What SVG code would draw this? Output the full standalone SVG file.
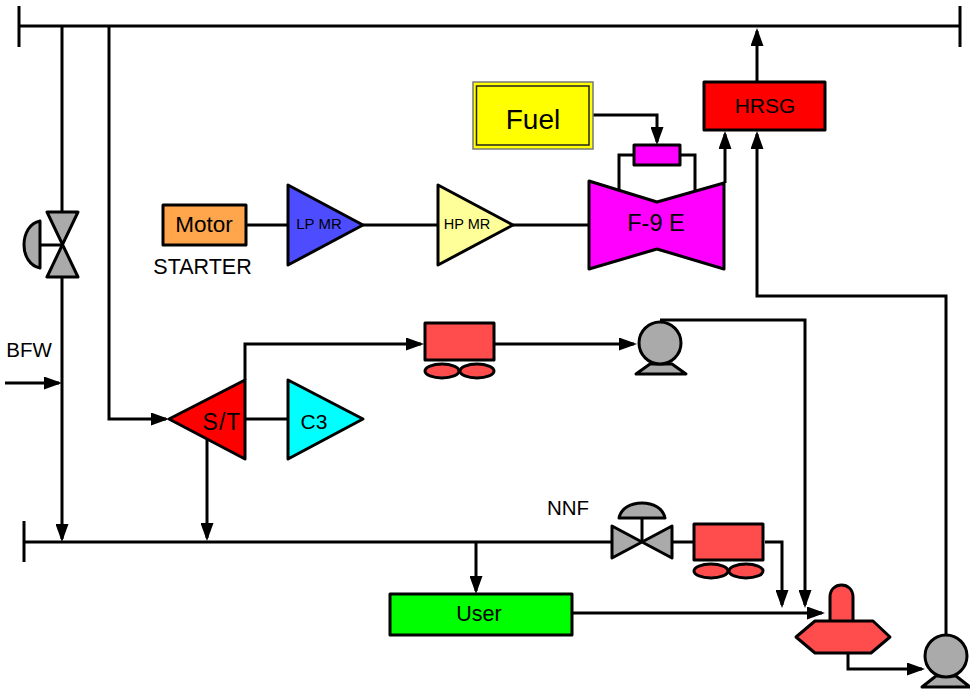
<svg xmlns="http://www.w3.org/2000/svg" width="970" height="692" viewBox="0 0 970 692">
<style>
.l{fill:none;stroke:#000;stroke-width:3}
.s{stroke:#000;stroke-width:3;stroke-linejoin:round}
.g{fill:#aaa}.r{fill:#ff4d4d}
text{font-family:"Liberation Sans",Arial,sans-serif;fill:#000;text-anchor:middle}
</style>
<defs>
<marker id="a" markerUnits="userSpaceOnUse" markerWidth="18" markerHeight="13" refX="15" refY="6.5" viewBox="0 0 18 13" orient="auto"><path d="M0 0L18 6.5L0 13Z" fill="#000"/></marker>
</defs>
<rect width="970" height="692" fill="#fff"/>
<g id="connectors">
<path class="l" d="M19 6V47M19 26H960M960 6V47"/>
<path class="l" d="M62 26V212M62 277V539" marker-end="url(#a)"/>
<path class="l" d="M109 26V419H166" marker-end="url(#a)"/>
<path class="l" d="M5 383H59" marker-end="url(#a)"/>
<path class="l" d="M246 225H288M363 225H438M513 225H589M245 419H288"/>
<path class="l" d="M593 115H657V142" marker-end="url(#a)"/>
<path class="l" d="M634 155H619V190M680 155H695V190"/>
<path class="l" d="M725 183V134" marker-end="url(#a)"/>
<path class="l" d="M757 82V31" marker-end="url(#a)"/>
<path class="l" d="M946 635V296H757V134" marker-end="url(#a)"/>
<path class="l" d="M245 380V344H421" marker-end="url(#a)"/>
<path class="l" d="M494 344H634" marker-end="url(#a)"/>
<path class="l" d="M660 320H805V605" marker-end="url(#a)"/>
<path class="l" d="M207 437V538" marker-end="url(#a)"/>
<path class="l" d="M24 521V562M24 542H611M672 542H694"/>
<path class="l" d="M476 542V591" marker-end="url(#a)"/>
<path class="l" d="M765 542H782V605" marker-end="url(#a)"/>
<path class="l" d="M572 613H822" marker-end="url(#a)"/>
<path class="l" d="M848 653V669H922" marker-end="url(#a)"/>
</g>
<g id="valve1"><path class="s g" d="M47 212H78L47 277H78Z"/><path class="s g" d="M40 221V268C30 266 24 256 24 245C24 233 30 223 40 221Z"/><path class="l" d="M40 245H62"/></g>
<g id="motor"><rect class="s" x="163" y="205" width="83" height="40" fill="#ffa64d"/><text x="204" y="232" font-size="22.500">Motor</text></g>
<g id="starter"><text x="202.500" y="274" font-size="21.500">STARTER</text></g>
<g id="lpmr"><path class="s" d="M288 185V265L363 225Z" fill="#4d4dff"/><text x="319" y="229" font-size="15">LP MR</text></g>
<g id="hpmr"><path class="s" d="M438 185V265L513 225Z" fill="#ffff99"/><text x="467" y="229" font-size="14.500">HP MR</text></g>
<g id="f9e"><path class="s" d="M589 181L657 202L724 183V269L657 249L589 269Z" fill="#f0f"/><text x="656" y="231" font-size="23.500">F-9 E</text></g>
<g id="combustor"><rect class="s" x="634" y="145" width="46" height="20" fill="#f0f"/></g>
<g id="fuel"><rect x="473" y="82" width="120" height="67" fill="#ff0" stroke="#777" stroke-width="1.500"/><rect x="476.500" y="86" width="112.500" height="59" fill="#ff0" stroke="#222" stroke-width="1.500"/><text x="533" y="129" font-size="28">Fuel</text></g>
<g id="hrsg"><rect class="s" x="704" y="82" width="121" height="48" fill="#f00"/><text x="765" y="113" font-size="21">HRSG</text></g>
<g id="bfw"><text x="29" y="357" font-size="20.500">BFW</text></g>
<g id="st"><path class="s" d="M169 419L245 380V459Z" fill="#f00"/><text x="222" y="430" font-size="23" letter-spacing="1">S/T</text></g>
<g id="c3"><path class="s" d="M288 380V459L363 419Z" fill="#0ff"/><text x="314" y="429" font-size="21">C3</text></g>
<g id="drum1"><rect class="s r" x="425" y="323" width="69" height="37"/><ellipse class="s r" cx="442" cy="371" rx="17" ry="7"/><ellipse class="s r" cx="477" cy="371" rx="17" ry="7"/></g>
<g id="pump1"><path class="s g" d="M636 374L650 364H672L686 374Z"/><circle class="s g" cx="660" cy="343" r="21"/></g>
<g id="nnf"><text x="568" y="515" font-size="20.500">NNF</text></g>
<g id="valve2"><path class="s g" d="M612 526V558L672 526V558Z"/><path class="s g" d="M619 518C621 508 631 503 642 503C653 503 663 508 665 518Z"/><path class="l" d="M642 518V542"/></g>
<g id="drum2"><rect class="s r" x="694" y="524" width="69" height="36"/><ellipse class="s r" cx="711" cy="571" rx="17" ry="7"/><ellipse class="s r" cx="746" cy="571" rx="17" ry="7"/></g>
<g id="user"><rect class="s" x="390" y="594" width="182" height="41" fill="#0f0"/><text x="479" y="621" font-size="21.500">User</text></g>
<g id="separator"><path class="s r" d="M830 622V597C830 581 853 581 853 597V622Z"/><path class="s r" d="M796 637L815 621H873L890 637L871 653H815Z"/></g>
<g id="pump2"><path class="s g" d="M922 687L936 676H956L970 687Z"/><circle class="s g" cx="946" cy="656" r="21"/></g>
</svg>
